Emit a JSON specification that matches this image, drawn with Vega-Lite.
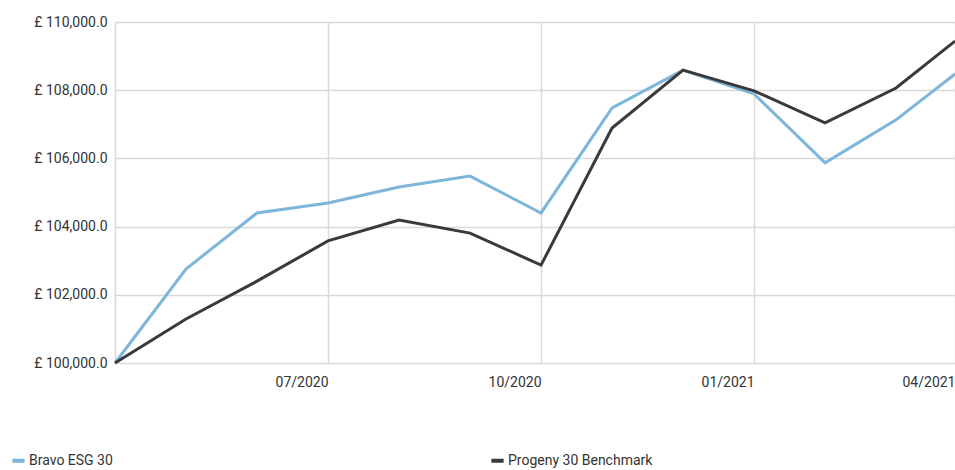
{
  "$schema": "https://vega.github.io/schema/vega-lite/v6.json",
  "autosize": {"type": "none"},
  "width": 840,
  "height": 341,
  "padding": {"left": 115, "top": 22, "right": 0, "bottom": 107},
  "config": {
    "font": "Roboto",
    "view": {"stroke": null}
  },
  "data": {"values": [
    {"m": 0, "s": "Bravo ESG 30", "v": 100000},
    {"m": 1, "s": "Bravo ESG 30", "v": 102757},
    {"m": 2, "s": "Bravo ESG 30", "v": 104400},
    {"m": 3, "s": "Bravo ESG 30", "v": 104690},
    {"m": 4, "s": "Bravo ESG 30", "v": 105160},
    {"m": 5, "s": "Bravo ESG 30", "v": 105480},
    {"m": 6, "s": "Bravo ESG 30", "v": 104400},
    {"m": 7, "s": "Bravo ESG 30", "v": 107480},
    {"m": 8, "s": "Bravo ESG 30", "v": 108590},
    {"m": 9, "s": "Bravo ESG 30", "v": 107890},
    {"m": 10, "s": "Bravo ESG 30", "v": 105870},
    {"m": 11, "s": "Bravo ESG 30", "v": 107130},
    {"m": 11.83, "s": "Bravo ESG 30", "v": 108475},
    {"m": 0, "s": "Progeny 30 Benchmark", "v": 100000},
    {"m": 1, "s": "Progeny 30 Benchmark", "v": 101290},
    {"m": 2, "s": "Progeny 30 Benchmark", "v": 102400},
    {"m": 3, "s": "Progeny 30 Benchmark", "v": 103580},
    {"m": 4, "s": "Progeny 30 Benchmark", "v": 104190},
    {"m": 5, "s": "Progeny 30 Benchmark", "v": 103810},
    {"m": 6, "s": "Progeny 30 Benchmark", "v": 102870},
    {"m": 7, "s": "Progeny 30 Benchmark", "v": 106890},
    {"m": 8, "s": "Progeny 30 Benchmark", "v": 108590},
    {"m": 9, "s": "Progeny 30 Benchmark", "v": 107980},
    {"m": 10, "s": "Progeny 30 Benchmark", "v": 107040},
    {"m": 11, "s": "Progeny 30 Benchmark", "v": 108065},
    {"m": 11.83, "s": "Progeny 30 Benchmark", "v": 109440}
  ]},
  "mark": {"type": "line", "strokeWidth": 3},
  "encoding": {
    "x": {
      "field": "m", "type": "quantitative",
      "scale": {"domain": [0, 11.83], "nice": false, "zero": false},
      "axis": {
        "title": null, "values": [0, 3, 6, 9, 11.83],
        "labelExpr": "datum.value == 3 ? '07/2020' : datum.value == 6 ? '10/2020' : datum.value == 9 ? '01/2021' : datum.value > 11 ? '04/2021' : ''",
        "labelAlign": "right", "labelFontSize": 14, "labelColor": "#333",
        "labelPadding": 12, "ticks": false, "domain": false,
        "gridColor": "#d9d9d9", "gridWidth": 1.5
      }
    },
    "y": {
      "field": "v", "type": "quantitative",
      "scale": {"domain": [100000, 110000], "zero": false, "nice": false},
      "axis": {
        "title": null, "values": [100000, 102000, 104000, 106000, 108000, 110000],
        "labelExpr": "'£ ' + format(datum.value, ',.1f')",
        "labelFontSize": 14, "labelColor": "#333", "labelPadding": 8,
        "ticks": false, "domain": false,
        "gridColor": "#d9d9d9", "gridWidth": 1.5
      }
    },
    "color": {
      "field": "s", "type": "nominal",
      "scale": {"domain": ["Bravo ESG 30", "Progeny 30 Benchmark"], "range": ["#7db5db", "#3a3a3a"]},
      "legend": {
        "title": null, "orient": "none", "legendX": -105, "legendY": 430,
        "direction": "horizontal", "columnPadding": 370,
        "symbolType": "stroke", "symbolStrokeWidth": 4, "symbolSize": 150,
        "labelFontSize": 14, "labelColor": "#333", "labelOffset": 2
      }
    }
  }
}
